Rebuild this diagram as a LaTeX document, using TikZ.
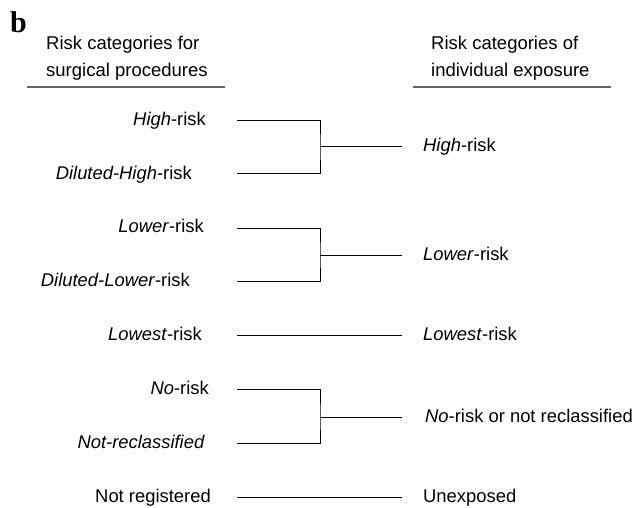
\documentclass[tikz,border=0pt]{standalone}
\usepackage{fontspec}
\setmainfont{Liberation Sans}
\newfontfamily\panelfont{Liberation Serif}
\usetikzlibrary{positioning}

\begin{document}
\begin{tikzpicture}[x=1pt,y=-1pt,
  lbl/.style={inner sep=0pt,font=\fontsize{18.4}{22}\selectfont,text height=14pt,text depth=4pt},
  hdr/.style={inner sep=0pt,align=left,anchor=north west,font=\fontsize{18.5}{26.5}\selectfont},
  rule/.style={draw=black!60,line width=1.8pt},
  conn/.style={draw,line width=1pt}]
\useasboundingbox (0,0) rectangle (635,508);
\node[anchor=base west,inner sep=0pt,font=\panelfont\bfseries\fontsize{30}{32}\selectfont] (panel) at (10,33) {b};
% headers
\node[hdr] (hdrL) at (46,36) {Risk categories for\\surgical procedures};
\node[hdr] (hdrR) at (431,36) {Risk categories of\\individual exposure};
\coordinate (rL1) at (27,87); \coordinate (rL2) at (225,87);
\coordinate (rR1) at (413,87); \coordinate (rR2) at (611,87);
\draw[rule] (rL1) -- (rL2);
\draw[rule] (rR1) -- (rR2);
% left column
\foreach \n/\y/\x/\t in %
{hr/121/206/{\textit{High}-risk},dhr/174/192/{\textit{Diluted-High}-risk},
 lr/228/204/{\textit{Lower}-risk},dlr/281.5/190/{\textit{Diluted-Lower}-risk},
 lw/335.5/202/{\textit{Lowest}-risk},nr/389.5/209/{\textit{No}-risk},
 nc/443.5/205/{\textit{Not-reclassified}},ng/497/211/{Not registered}} {
   \node[lbl,anchor=east] (\n) at (\x,\y) {\t};
   \coordinate (\n-e) at (237,\y);
}
% right column
\foreach \n/\y/\x/\t in %
{hR/147/423/{\textit{High}-risk},lR/255/423/{\textit{Lower}-risk},
 lwR/335.5/423/{\textit{Lowest}-risk},nR/417/425/{\textit{No}-risk or not reclassified},
 ngR/497/423/{Unexposed}} {
   \node[lbl,anchor=west] (\n) at (\x,\y) {\t};
   \coordinate (\n-w) at (402,\y);
}
\coordinate (hj) at (320,147);
\coordinate (lj) at (320,255);
\coordinate (nj) at (320,417);
\draw[conn] (hr-e) -| (hj) |- (dhr-e);
\draw[conn] (hj) -- (hR-w);
\draw[conn] (lr-e) -| (lj) |- (dlr-e);
\draw[conn] (lj) -- (lR-w);
\draw[conn] (lw-e) -- (lwR-w);
\draw[conn] (nr-e) -| (nj) |- (nc-e);
\draw[conn] (nj) -- (nR-w);
\draw[conn] (ng-e) -- (ngR-w);
\end{tikzpicture}
\end{document}
